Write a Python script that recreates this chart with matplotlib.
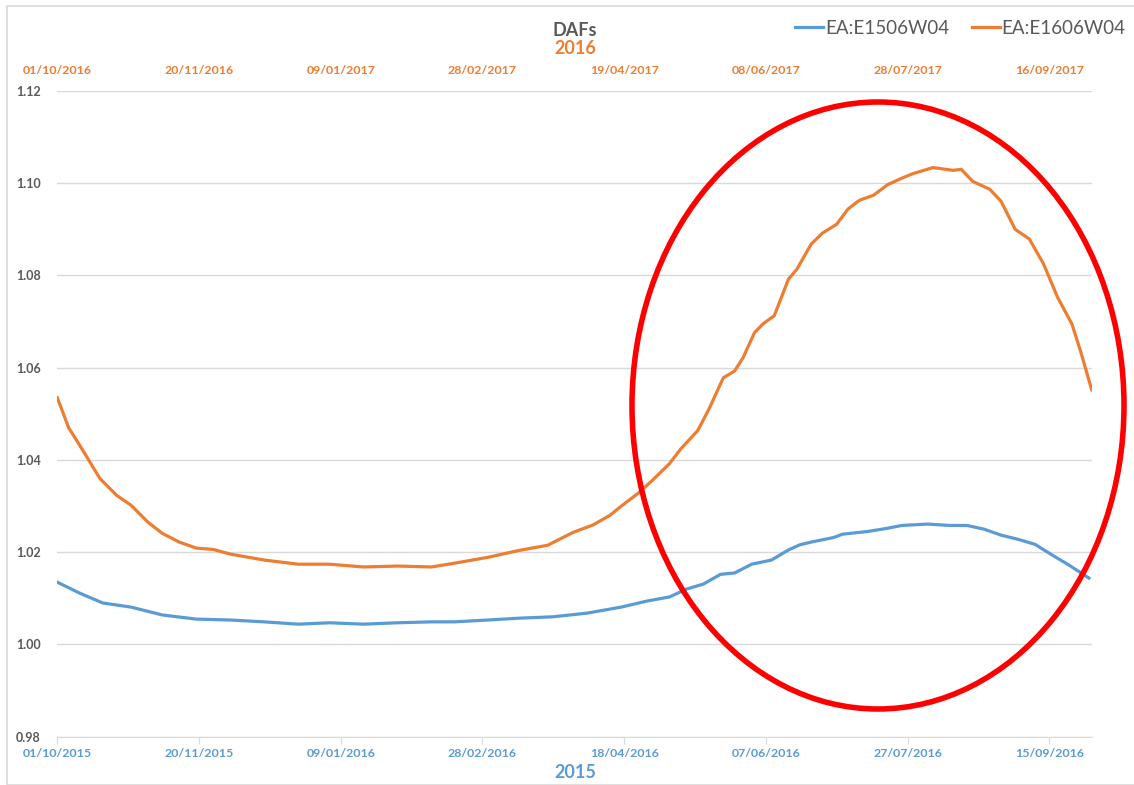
import numpy as np
import pandas as pd
import matplotlib
matplotlib.use('Agg')
import matplotlib.pyplot as plt
from matplotlib.patches import Ellipse, Rectangle

plt.rcParams['font.family'] = ['Lato', 'DejaVu Sans']

# 데이터 (그림에서 읽은 값, 시작일로부터 경과일)
start_2015 = '2015-10-01'
start_2016 = '2016-10-01'

days_e1506 = [0, 8, 16, 26, 37, 49, 61, 73, 85, 96, 108, 120, 132,
              140, 152, 163, 175, 187, 199, 208, 216, 222, 228,
              234, 239, 245, 252, 258, 262, 266, 274, 277, 286, 293, 298, 307,
              315, 321, 327, 333, 339, 345, 351, 357, 364]
vals_e1506 = [1.0135, 1.0111, 1.0090, 1.0081, 1.0064, 1.0055, 1.0053, 1.0049, 1.0044,
              1.0047, 1.0044, 1.0047, 1.0049,
              1.0049, 1.0053, 1.0057, 1.0060, 1.0068, 1.0081, 1.0094, 1.0103, 1.0120, 1.0131,
              1.0152, 1.0155, 1.0174, 1.0183, 1.0205, 1.0216, 1.0222, 1.0232, 1.0239,
              1.0245, 1.0252, 1.0258, 1.0261, 1.0258, 1.0258, 1.0250, 1.0237, 1.0228,
              1.0217, 1.0194, 1.0172, 1.0144]

days_e1606 = [0, 4, 9, 15, 21, 26, 32, 37, 43, 49, 55, 61, 73, 85, 96, 108, 120, 132,
              140, 152, 163, 173, 182, 189, 195, 199, 205, 210, 216, 220, 226, 230,
              235, 239, 242, 246, 249, 253, 258, 261, 266, 270, 275, 279, 283, 288,
              293, 298, 302, 309, 316, 319, 323, 329, 333, 338, 343, 348, 353, 358,
              361, 365]
vals_e1606 = [1.0535, 1.0470, 1.0421, 1.0360, 1.0323, 1.0302, 1.0265, 1.0241, 1.0222,
              1.0209, 1.0206, 1.0196, 1.0183, 1.0174, 1.0174, 1.0168, 1.0170, 1.0168,
              1.0176, 1.0189, 1.0204, 1.0215, 1.0243, 1.0259, 1.0280, 1.0300, 1.0328,
              1.0356, 1.0392, 1.0424, 1.0464, 1.0511, 1.0578, 1.0593, 1.0622, 1.0676,
              1.0695, 1.0713, 1.0792, 1.0814, 1.0868, 1.0892, 1.0911, 1.0944, 1.0963,
              1.0974, 1.0997, 1.1011, 1.1021, 1.1034, 1.1028, 1.1030, 1.1004, 1.0987,
              1.0961, 1.0900, 1.0879, 1.0825, 1.0752, 1.0695, 1.0637, 1.0552]

BLUE = '#5B9BD5'
ORANGE = '#ED7D31'
GRAY = '#595959'
GRID = '#D9D9D9'

d15 = pd.Timestamp(start_2015) + pd.to_timedelta(days_e1506, unit='D')
d16 = pd.Timestamp(start_2016) + pd.to_timedelta(days_e1606, unit='D')

fig = plt.figure(figsize=(11.34, 7.85), dpi=100)
ax = fig.add_axes([57.3 / 1134, 1 - 736.7 / 785, 1035 / 1134, 645.7 / 785])
ax2 = ax.twiny()

ax.plot(d15, vals_e1506, color=BLUE, lw=2.3, label='EA:E1506W04', zorder=3)
ax2.plot(d16, vals_e1606, color=ORANGE, lw=2.3, label='EA:E1606W04', zorder=3)

ax.set_xlim(pd.Timestamp(start_2015), pd.Timestamp(start_2015) + pd.Timedelta(days=365.2))
ax2.set_xlim(pd.Timestamp(start_2016), pd.Timestamp(start_2016) + pd.Timedelta(days=365.2))
ax.set_ylim(0.98, 1.12)
ax.set_yticks(np.arange(0.98, 1.1201, 0.02))
ax.set_yticklabels(['%.2f' % v for v in np.arange(0.98, 1.1201, 0.02)])

t15 = pd.date_range(start_2015, periods=8, freq='50D')
t16 = pd.date_range(start_2016, periods=8, freq='50D')
ax.set_xticks(t15)
ax.set_xticklabels([t.strftime('%d/%m/%Y') for t in t15], color=BLUE,
                   fontsize=8.9, fontweight='bold')
ax2.set_xticks(t16)
ax2.set_xticklabels([t.strftime('%d/%m/%Y') for t in t16], color=ORANGE,
                    fontsize=8.9, fontweight='bold')

ax.grid(axis='y', color=GRID, lw=1)
ax.set_axisbelow(True)
for a in (ax, ax2):
    for s in a.spines.values():
        s.set_visible(False)
ax.spines['bottom'].set_visible(True)
ax.spines['bottom'].set_color(GRID)
ax.tick_params(axis='x', length=5, color=GRID, pad=3)
ax.tick_params(axis='y', length=0, labelsize=9, labelcolor=GRAY, pad=12)
for lab in ax.get_yticklabels():
    lab.set_fontweight('bold')
ax2.tick_params(axis='x', length=0, pad=11)

# 제목과 축 이름
fig.text(575 / 1134, 1 - 31 / 785, 'DAFs', ha='center', va='center',
         fontsize=13, fontweight='bold', color=GRAY)
fig.text(575 / 1134, 1 - 49 / 785, '2016', ha='center', va='center',
         fontsize=13, fontweight='bold', color=ORANGE)
fig.text(575 / 1134, 1 - 773 / 785, '2015', ha='center', va='center',
         fontsize=13, fontweight='bold', color=BLUE)

# 범례
h1, l1 = ax.get_legend_handles_labels()
h2, l2 = ax2.get_legend_handles_labels()
fig.legend(h1 + h2, l1 + l2, loc='center right', bbox_to_anchor=(1133 / 1134, 1 - 28 / 785),
           ncol=2, frameon=False, fontsize=13.5, labelcolor=GRAY, handlelength=1.5,
           handletextpad=0.1, columnspacing=1.2, borderaxespad=0)

# 빨간 타원 강조
fig.patches.append(Ellipse((878 / 1134, 1 - 405.5 / 785), 492 / 1134, 607 / 785,
                           transform=fig.transFigure, fill=False, edgecolor='#FF0000',
                           lw=4, zorder=10))
# 차트 테두리
fig.patches.append(Rectangle((7 / 1134, 0), 1.0, 1 - 6 / 785, transform=fig.transFigure,
                             fill=False, edgecolor=GRID, lw=1.2))

fig.savefig('out.png', dpi=100)
